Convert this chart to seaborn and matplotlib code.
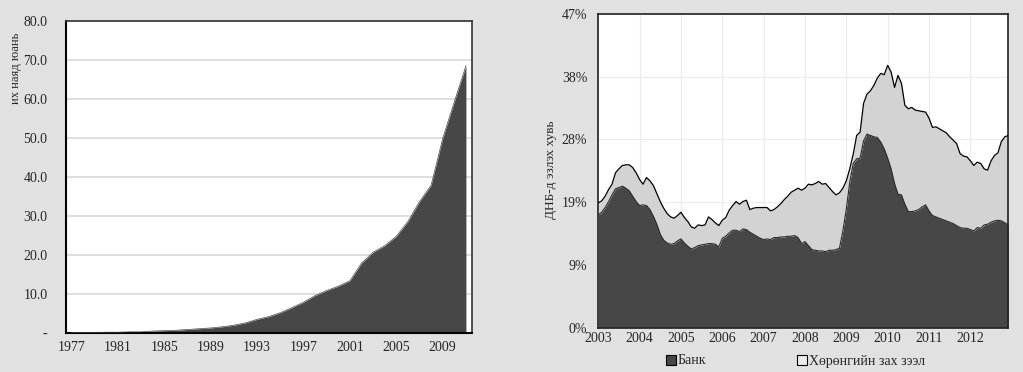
import matplotlib
matplotlib.use("Agg")
import matplotlib.pyplot as plt
import seaborn as sns
import numpy as np
import pandas as pd
from matplotlib.lines import Line2D

# left chart: yearly values, trillion yuan
years = list(range(1977, 2012))
volume = [0.1, 0.1, 0.1, 0.2, 0.2, 0.3, 0.3, 0.5, 0.6, 0.7,
          0.9, 1.1, 1.3, 1.6, 2.0, 2.6, 3.5, 4.2, 5.2, 6.5,
          7.9, 9.6, 10.9, 12.0, 13.4, 17.9, 20.7, 22.4, 24.8, 28.6,
          33.7, 37.9, 49.9, 59.3, 68.5]
left_ticks = [1977, 1981, 1985, 1989, 1993, 1997, 2001, 2005, 2009]

# right chart: monthly, % of GDP, Jan 2003 .. Dec 2012
bank = [16.9, 17.3, 18.0, 18.9, 19.9, 20.8, 21.0, 21.2, 20.9, 20.5, 19.7, 18.9,
        18.3, 18.4, 18.3, 17.7, 16.7, 15.5, 14.0, 13.1, 12.7, 12.5, 12.6, 13.0,
        13.3, 12.7, 12.2, 11.8, 12.0, 12.3, 12.4, 12.5, 12.6, 12.6, 12.5, 12.1,
        13.4, 13.7, 14.2, 14.6, 14.6, 14.4, 14.8, 14.7, 14.3, 14.0, 13.7, 13.4,
        13.2, 13.3, 13.2, 13.5, 13.5, 13.6, 13.6, 13.7, 13.7, 13.8, 13.5, 12.6,
        12.9, 12.3, 11.7, 11.6, 11.5, 11.5, 11.4, 11.6, 11.6, 11.7, 11.9, 14.5,
        17.8, 21.8, 24.6, 25.3, 25.4, 28.0, 29.0, 28.8, 28.6, 28.5, 27.8, 26.8,
        25.4, 23.8, 21.6, 20.0, 19.9, 18.5, 17.4, 17.4, 17.5, 17.7, 18.1, 18.4,
        17.5, 16.8, 16.6, 16.4, 16.2, 16.0, 15.8, 15.6, 15.3, 15.0, 14.9, 14.9,
        14.7, 14.5, 15.0, 14.9, 15.4, 15.5, 15.8, 16.0, 16.1, 16.0, 15.7, 15.4]
total = [18.7, 19.0, 19.7, 20.7, 21.5, 23.2, 23.8, 24.3, 24.4, 24.4, 24.0, 23.2,
         22.2, 21.5, 22.5, 22.0, 21.3, 20.1, 18.9, 17.9, 17.1, 16.6, 16.4, 16.8,
         17.3, 16.5, 15.9, 15.1, 14.9, 15.4, 15.3, 15.4, 16.6, 16.2, 15.7, 15.3,
         16.1, 16.5, 17.6, 18.3, 18.9, 18.5, 18.9, 19.1, 17.7, 17.9, 18.0, 18.0,
         18.0, 18.0, 17.5, 17.7, 18.1, 18.6, 19.2, 19.7, 20.3, 20.6, 20.9, 20.6,
         20.9, 21.5, 21.4, 21.6, 21.9, 21.5, 21.6, 21.0, 20.4, 19.9, 20.2, 20.9,
         22.0, 23.8, 26.0, 28.8, 29.3, 33.6, 35.0, 35.5, 36.3, 37.4, 38.1, 37.9,
         39.3, 38.3, 36.0, 37.8, 36.6, 33.3, 32.8, 33.0, 32.6, 32.5, 32.4, 32.3,
         31.4, 30.0, 30.1, 29.8, 29.5, 29.2, 28.6, 28.1, 27.6, 26.1, 25.7, 25.6,
         25.0, 24.3, 24.8, 24.6, 23.8, 23.6, 25.0, 25.8, 26.2, 27.9, 28.6, 28.8]
right_years = list(range(2003, 2013))
pct_ticks = [0, 9.4, 18.8, 28.2, 37.6, 47]
pct_labels = ["0%", "9%", "19%", "28%", "38%", "47%"]
legend_names = ["Банк", "Хөрөнгийн зах зээл"]

sns.set_style("white")
plt.rcParams["font.family"] = ["Liberation Serif", "DejaVu Serif"]
plt.rcParams["font.size"] = 10

bg = "#e1e1e1"
dark = "#474747"
light = "#d3d3d3"

fig = plt.figure(figsize=(10.23, 3.72), dpi=100, facecolor=bg)

# ---------- left panel
ax1 = fig.add_axes([0.0642, 0.1048, 0.3969, 0.8387])
df1 = pd.DataFrame({"year": years, "value": volume})
ax1.fill_between(df1["year"], 0, df1["value"], color=dark, lw=0, zorder=2)
sns.lineplot(data=df1, x="year", y="value", ax=ax1, color=dark, lw=0.5, zorder=3)
ax1.set_xlim(1976.5, 2011.5)
ax1.set_ylim(0, 80)
ax1.set_yticks(range(0, 81, 10))
ax1.set_yticklabels(["-"] + ["%.1f" % v for v in range(10, 81, 10)])
ax1.set_xticks(left_ticks)
ax1.set_xticklabels([str(y) for y in left_ticks])
ax1.set_xticks(np.arange(1976.5, 2012, 1), minor=True)
ax1.tick_params(axis="x", which="major", length=0, pad=6, labelsize=10)
ax1.tick_params(axis="x", which="minor", length=4, width=1.2, color="black", direction="out")
ax1.tick_params(axis="y", length=4, width=1.2, color="black", direction="out", pad=9, labelsize=10)
ax1.grid(axis="y", color="#d9d9d9", lw=1.2)
ax1.set_axisbelow(True)
ax1.set_xlabel("")
ax1.set_ylabel("")
for side in ["left", "bottom"]:
    ax1.spines[side].set_color("black")
    ax1.spines[side].set_linewidth(1.5)
for side in ["top", "right"]:
    ax1.spines[side].set_color("#333333")
    ax1.spines[side].set_linewidth(1.2)
fig.text(16 / 1023, 1 - 68 / 372, "их наяд юань", rotation=90, ha="center", va="center", fontsize=9)

# ---------- right panel
ax2 = fig.add_axes([0.5848, 0.1191, 0.4008, 0.8433])
months = [2003 + i / 12 for i in range(len(bank))]
df2 = pd.DataFrame({"t": months, "bank": bank, "total": total})
ax2.fill_between(df2["t"], 0, df2["bank"], color=dark, lw=0, zorder=2)
ax2.fill_between(df2["t"], df2["bank"], df2["total"], color=light, lw=0, zorder=2)
sns.lineplot(data=df2, x="t", y="bank", ax=ax2, color="#2a2a2a", lw=0.8, zorder=3)
sns.lineplot(data=df2, x="t", y="total", ax=ax2, color="black", lw=0.9, zorder=3)
ax2.set_xlim(months[0], months[-1])
ax2.set_ylim(0, 47)
ax2.set_yticks(pct_ticks)
ax2.set_yticklabels(pct_labels)
ax2.set_xticks(right_years)
ax2.set_xticklabels([str(y) for y in right_years])
ax2.tick_params(axis="both", length=3, width=1, color="#333333", direction="in", labelsize=10)
ax2.tick_params(axis="y", pad=8)
ax2.tick_params(axis="x", pad=3)
ax2.grid(True, color="#ececec", lw=0.8)
ax2.set_axisbelow(True)
ax2.set_xlabel("")
ax2.set_ylabel("")
for side in ["left", "bottom", "top", "right"]:
    ax2.spines[side].set_color("#222222")
    ax2.spines[side].set_linewidth(1.2)
fig.text(551 / 1023, 1 - 170 / 372, "ДНБ-д эзлэх хувь", rotation=90, ha="center", va="center", fontsize=9.5)

handles = [
    Line2D([], [], ls="", marker="s", markersize=7, markerfacecolor=dark, markeredgecolor="black", markeredgewidth=0.8),
    Line2D([], [], ls="", marker="s", markersize=7, markerfacecolor="#ececec", markeredgecolor="black", markeredgewidth=0.8),
]
fig.legend(handles, legend_names, loc="center", bbox_to_anchor=(795 / 1023, 1 - 361 / 372),
           ncol=2, frameon=False, handletextpad=0.1, columnspacing=6.5, handlelength=0.8, fontsize=10)

fig.savefig("out.png", dpi=100, facecolor=bg)
